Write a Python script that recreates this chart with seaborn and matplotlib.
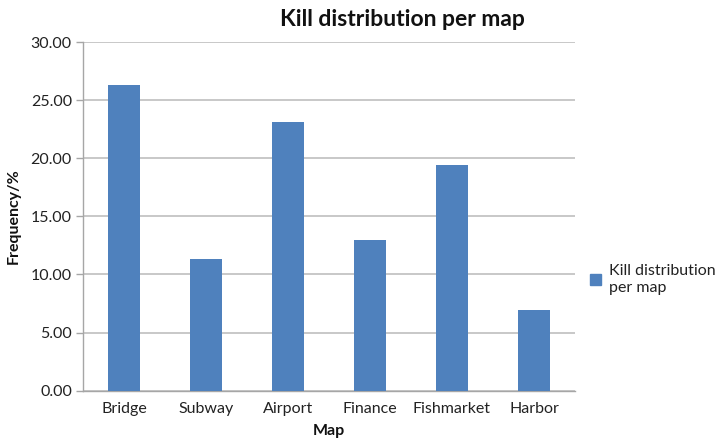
import matplotlib
matplotlib.use("Agg")
import matplotlib.pyplot as plt
import seaborn as sns
import pandas as pd
from matplotlib.patches import Patch
from matplotlib.ticker import FormatStrFormatter

maps = ["Bridge", "Subway", "Airport", "Finance", "Fishmarket", "Harbor"]
freq = [26.28, 11.33, 23.12, 12.97, 19.40, 6.94]
series_name = "Kill distribution\nper map"

df = pd.DataFrame({"Map": maps, "Frequency": freq})

sns.set_theme(style="white")
plt.rcParams["font.family"] = ["Lato", "DejaVu Sans"]

fig = plt.figure(figsize=(7.18, 4.45), dpi=100)
ax = fig.add_axes([0.1156, 0.122, 0.6852, 0.7836])

bar_color = "#4F81BD"
sns.barplot(data=df, x="Map", y="Frequency", color=bar_color, width=0.39,
            saturation=1, ax=ax, zorder=3, edgecolor=bar_color, linewidth=0)

ax.set_ylim(0, 30)
ax.set_yticks([0, 5, 10, 15, 20, 25, 30])
ax.yaxis.set_major_formatter(FormatStrFormatter("%.2f"))
ax.set_xlim(-0.5, 5.5)
ax.grid(axis="y", color="#BFBFBF", linewidth=1.2, zorder=0)
ax.set_axisbelow(True)
for s in ["top", "right"]:
    ax.spines[s].set_visible(False)
for s in ["left", "bottom"]:
    ax.spines[s].set_color("#A6A6A6")
    ax.spines[s].set_linewidth(1.0)

ax.tick_params(axis="both", labelsize=11.5, colors="#222222")
ax.tick_params(axis="x", length=0, pad=8)
ax.tick_params(axis="y", left=True, length=5, width=1.0, color="#A6A6A6",
               direction="out", pad=3)

ax.set_xlabel("Map", fontsize=11.5, fontweight="bold", color="#111111", labelpad=6)
ax.set_ylabel("Frequency/%", fontsize=11.5, fontweight="bold", color="#111111", labelpad=7)

fig.text(0.56, 0.957, "Kill distribution per map", ha="center", va="center",
         fontsize=16.5, fontweight="bold", color="#111111")

handle = Patch(facecolor=bar_color, edgecolor=bar_color)
leg = fig.legend([handle], [series_name], loc="upper left",
                 bbox_to_anchor=(0.813, 0.42), frameon=False, fontsize=11.5,
                 handlelength=0.7, handleheight=0.7, handletextpad=0.5,
                 borderaxespad=0, labelspacing=0.2)
for t in leg.get_texts():
    t.set_color("#222222")

fig.savefig("out.png", dpi=100)
